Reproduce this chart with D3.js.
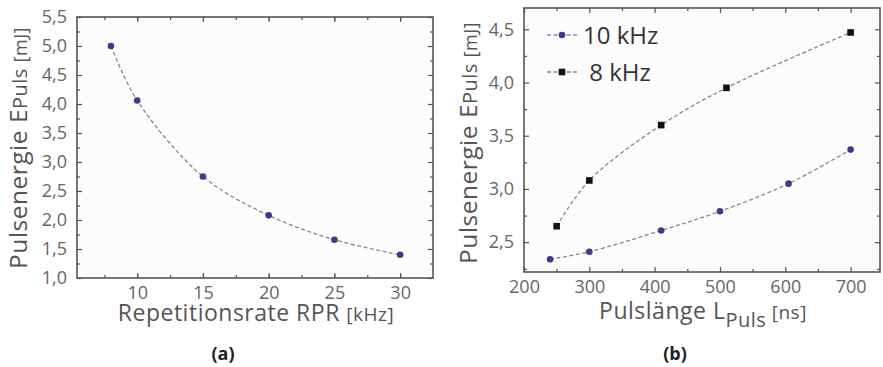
<!DOCTYPE html>
<html>
<head>
<meta charset="utf-8">
<script src="https://cdn.jsdelivr.net/npm/d3@7"></script>
<style>
  body { margin: 0; background: #fff; }
  text { font-family: "Open Sans", "DejaVu Sans", sans-serif; }
</style>
</head>
<body>
<div id="chart"></div>
<script>
// panel (a): energy vs repetition rate
const rateA = [8, 10, 15, 20, 25, 30];
const energyA = [5.0, 4.06, 2.75, 2.08, 1.66, 1.40];

// panel (b): energy vs pulse length
const pulse10 = [240, 300, 410, 500, 605, 700];
const energy10 = [2.34, 2.41, 2.61, 2.79, 3.05, 3.37];
const pulse8 = [250, 300, 410, 510, 700];
const energy8 = [2.65, 3.08, 3.60, 3.95, 4.47];

const legendLabels = ["10 kHz", " 8 kHz"];
const xTicksA = [10, 15, 20, 25, 30];
const yTicksA = [1.0, 1.5, 2.0, 2.5, 3.0, 3.5, 4.0, 4.5, 5.0, 5.5];
const xTicksB = [200, 300, 400, 500, 600, 700];
const yTicksB = [2.5, 3.0, 3.5, 4.0, 4.5];

const W = 883, H = 367;
const axisCol = "#555", textCol = "#666";
const blue = "#3b3b8c";

const svg = d3.select("#chart").append("svg")
    .attr("width", W)
    .attr("height", H);

const fmt = d => d3.format(".1f")(d).replace(".", ",");

function panel(box, xDom, yDom, xTicks, yTicks, xMinor, yMinor, yFmt) {
    const x = d3.scaleLinear().domain(xDom).range([box.left, box.right]);
    const y = d3.scaleLinear().domain(yDom).range([box.bottom, box.top]);

    svg.append("rect")
        .attr("x", box.left).attr("y", box.top)
        .attr("width", box.right - box.left)
        .attr("height", box.bottom - box.top)
        .attr("fill", "#fcfcfc");

    const minorX = d3.range(xMinor[0], xDom[1], xMinor[1]).filter(v => v > xDom[0]);
    const minorY = d3.range(yMinor[0], yDom[1], yMinor[1]).filter(v => v > yDom[0]);

    const g = svg.append("g");

    // bottom + top
    [[d3.axisBottom, box.bottom, true], [d3.axisTop, box.top, false]].forEach(([ax, ty, lab]) => {
        const a = g.append("g").attr("transform", `translate(0,${ty})`)
            .call(ax(x).tickValues(xTicks).tickSizeInner(-5).tickSizeOuter(0).tickPadding(8)
                .tickFormat(lab ? d => d : ""));
        g.append("g").attr("transform", `translate(0,${ty})`)
            .call(ax(x).tickValues(minorX).tickSizeInner(-3).tickSizeOuter(0).tickFormat(""))
            .select(".domain").remove();
        a.select(".domain").remove();
    });
    // left + right
    [[d3.axisLeft, box.left, true], [d3.axisRight, box.right, false]].forEach(([ax, tx, lab]) => {
        const a = g.append("g").attr("transform", `translate(${tx},0)`)
            .call(ax(y).tickValues(yTicks).tickSizeInner(-5).tickSizeOuter(0).tickPadding(10)
                .tickFormat(lab ? yFmt : ""));
        g.append("g").attr("transform", `translate(${tx},0)`)
            .call(ax(y).tickValues(minorY).tickSizeInner(-3).tickSizeOuter(0).tickFormat(""))
            .select(".domain").remove();
        a.select(".domain").remove();
    });

    g.selectAll(".tick line").attr("stroke", axisCol).attr("stroke-width", 1.2);
    g.selectAll("g").attr("font-size", null).attr("font-family", null);
    g.selectAll(".tick text")
        .attr("fill", textCol)
        .style("font-size", "18px");

    g.append("rect")
        .attr("x", box.left).attr("y", box.top)
        .attr("width", box.right - box.left)
        .attr("height", box.bottom - box.top)
        .attr("fill", "none")
        .attr("stroke", axisCol)
        .attr("stroke-width", 1.6);

    return { x, y };
}

function series(sc, xs, ys, color, shape, curve) {
    const pts = xs.map((v, i) => [v, ys[i]]);
    const line = d3.line()
        .curve(curve)
        .x(d => sc.x(d[0]))
        .y(d => sc.y(d[1]));
    svg.append("path")
        .datum(pts)
        .attr("d", line)
        .attr("fill", "none")
        .attr("stroke", "#888")
        .attr("stroke-width", 1.3)
        .attr("stroke-dasharray", "4,2.5");
    const m = svg.append("g").selectAll("*").data(pts);
    if (shape === "circle") {
        m.join("circle")
            .attr("cx", d => sc.x(d[0]))
            .attr("cy", d => sc.y(d[1]))
            .attr("r", 3.3)
            .attr("fill", color);
    } else {
        m.join("rect")
            .attr("x", d => sc.x(d[0]) - 3.3)
            .attr("y", d => sc.y(d[1]) - 3.3)
            .attr("width", 6.6)
            .attr("height", 6.6)
            .attr("fill", color);
    }
}

// ---- panel (a)
const boxA = { left: 77, right: 433, top: 17, bottom: 278 };
const sa = panel(boxA, [5.42, 32.5], [1.0, 5.5], xTicksA, yTicksA, [7.5, 2.5], [1.25, 0.5], fmt);
series(sa, rateA, energyA, blue, "circle", d3.curveCatmullRom);

// ---- panel (b)
const boxB = { left: 524, right: 880, top: 8, bottom: 272 };
const sb = panel(boxB, [200, 745], [2.22, 4.7], xTicksB, yTicksB, [250, 100], [2.25, 0.5], fmt);
series(sb, pulse10, energy10, blue, "circle", d3.curveCatmullRom);
series(sb, pulse8, energy8, "#111", "rect", d3.curveCatmullRom);

// legend
const legend = svg.append("g")
    .selectAll("g")
    .data(legendLabels)
    .join("g")
    .attr("transform", (d, i) => `translate(547,${35 + i * 37})`);
legend.append("line")
    .attr("x1", 0).attr("x2", 30)
    .attr("stroke", (d, i) => i === 0 ? "#8a8ac0" : "#888")
    .attr("stroke-width", 1.3)
    .attr("stroke-dasharray", "4,2.5");
legend.each(function (d, i) {
    const s = d3.select(this);
    if (i === 0) s.append("circle").attr("cx", 15).attr("r", 3.3).attr("fill", blue);
    else s.append("rect").attr("x", 11.7).attr("y", -3.3).attr("width", 6.6).attr("height", 6.6).attr("fill", "#111");
});
legend.append("text")
    .attr("x", 36)
    .attr("y", 8.5)
    .attr("font-size", 24)
    .attr("fill", "#333")
    .style("white-space", "pre")
    .text(d => d);

// axis titles
function yTitle(cx, cy) {
    const t = svg.append("text")
        .attr("transform", `translate(${cx},${cy}) rotate(-90)`)
        .attr("text-anchor", "middle")
        .attr("fill", "#555")
        .attr("letter-spacing", 0.5)
        .attr("font-size", 24.5);
    t.append("tspan").text("Pulsenergie E");
    t.append("tspan").attr("font-size", 20).text("Puls ");
    t.append("tspan").attr("font-size", 18).text("[mJ]");
}
yTitle(27, 148);
yTitle(477, 143);

const xa = svg.append("text")
    .attr("x", 256).attr("y", 321)
    .attr("text-anchor", "middle")
    .attr("fill", "#555")
    .attr("letter-spacing", 0.5)
    .attr("font-size", 23);
xa.append("tspan").text("Repetitionsrate RPR ");
xa.append("tspan").attr("font-size", 19).text("[kHz]");

const xb = svg.append("text")
    .attr("x", 703).attr("y", 319)
    .attr("text-anchor", "middle")
    .attr("fill", "#555")
    .attr("letter-spacing", 0.5)
    .attr("font-size", 23);
xb.append("tspan").text("Pulslänge L");
xb.append("tspan").attr("font-size", 20).attr("dy", 8).text("Puls");
xb.append("tspan").attr("font-size", 19).attr("dy", -8).text(" [ns]");

// panel captions
svg.selectAll(".cap")
    .data([["(a)", 223], ["(b)", 675]])
    .join("text")
    .attr("class", "cap")
    .attr("x", d => d[1])
    .attr("y", 360)
    .attr("text-anchor", "middle")
    .attr("font-size", 18)
    .attr("font-weight", "bold")
    .attr("fill", "#222")
    .text(d => d[0]);
</script>
</body>
</html>
